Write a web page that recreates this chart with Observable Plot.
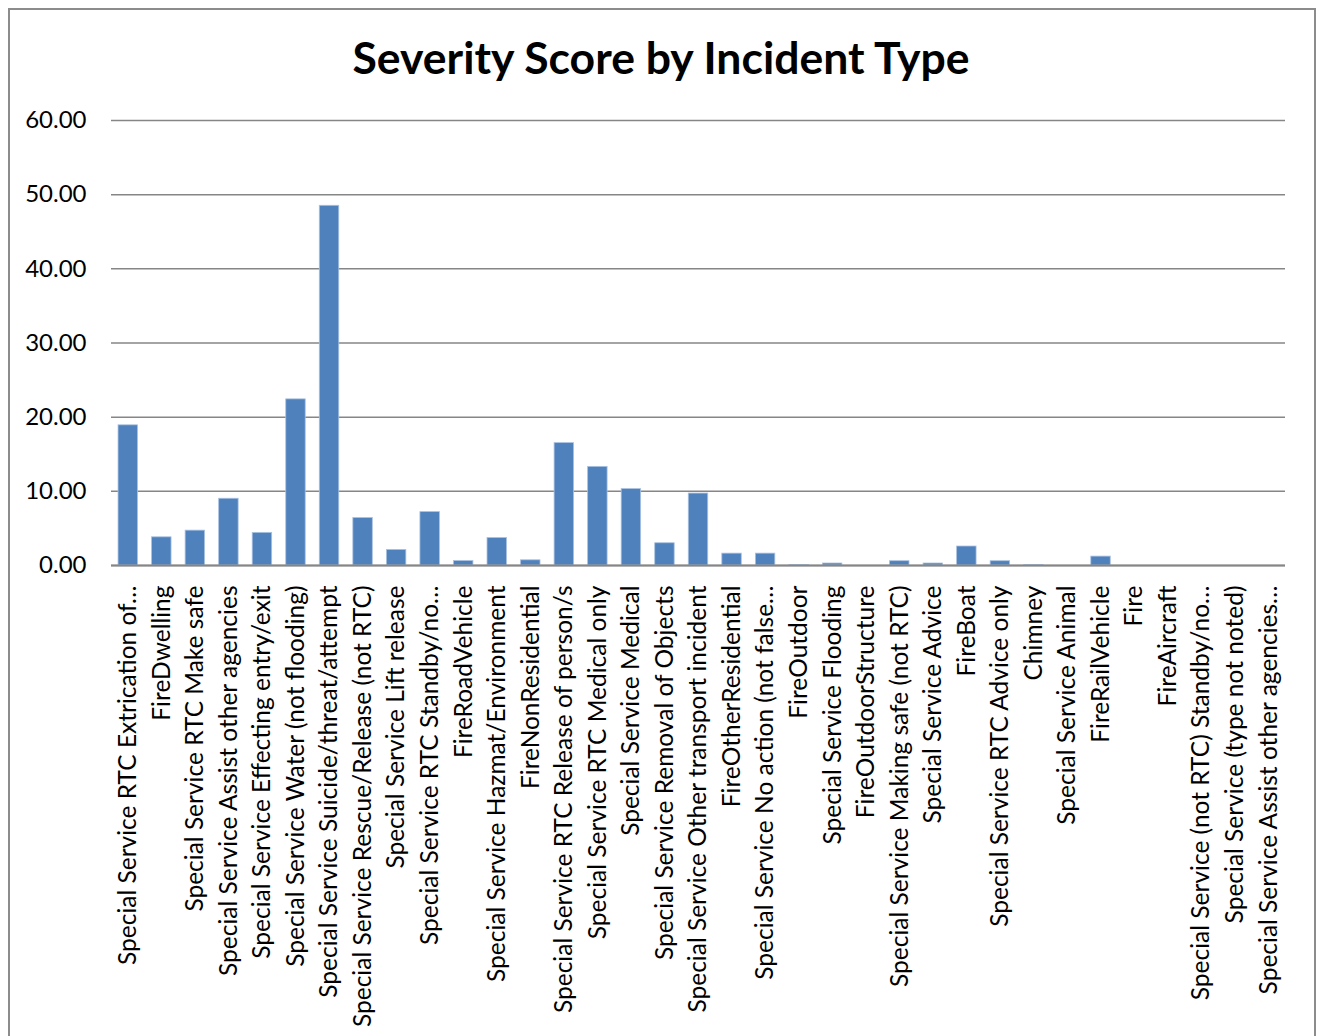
<!DOCTYPE html>
<html>
<head>
<meta charset="utf-8">
<script src="https://cdn.jsdelivr.net/npm/d3@7"></script>
<script src="https://cdn.jsdelivr.net/npm/@observablehq/plot@0.6"></script>
<style>
  html, body { margin: 0; padding: 0; background: #fff; width: 1322px; height: 1036px; overflow: hidden; }
  #frame { position: absolute; left: 8px; top: 8px; width: 1308px; height: 1100px; border: 2px solid #8c8c8c; box-sizing: border-box; }
  #title { position: absolute; left: 0; width: 1322px; top: 35px; text-align: center; font-family: Lato, "Open Sans", sans-serif; font-weight: bold; font-size: 44.5px; line-height: 1; color: #000; margin: 0; }
  #chart { position: absolute; left: 0; top: 100px; }
</style>
</head>
<body>
<div id="frame"></div>
<h1 id="title">Severity Score by Incident Type</h1>
<div id="chart"></div>
<script>
const categories = [
  "Special Service RTC Extrication of…",
  "FireDwelling",
  "Special Service RTC Make safe",
  "Special Service Assist other agencies",
  "Special Service Effecting entry/exit",
  "Special Service Water (not flooding)",
  "Special Service Suicide/threat/attempt",
  "Special Service Rescue/Release (not RTC)",
  "Special Service Lift release",
  "Special Service RTC Standby/no…",
  "FireRoadVehicle",
  "Special Service Hazmat/Environment",
  "FireNonResidential",
  "Special Service RTC Release of person/s",
  "Special Service RTC Medical only",
  "Special Service Medical",
  "Special Service Removal of Objects",
  "Special Service Other transport incident",
  "FireOtherResidential",
  "Special Service No action (not false…",
  "FireOutdoor",
  "Special Service Flooding",
  "FireOutdoorStructure",
  "Special Service Making safe (not RTC)",
  "Special Service Advice",
  "FireBoat",
  "Special Service RTC Advice only",
  "Chimney",
  "Special Service Animal",
  "FireRailVehicle",
  "Fire",
  "FireAircraft",
  "Special Service (not RTC) Standby/no…",
  "Special Service (type not noted)",
  "Special Service Assist other agencies…"
];
const values = [
  18.9, 3.8, 4.7, 9.0, 4.4, 22.4, 48.5, 6.4, 2.1, 7.2,
  0.6, 3.7, 0.7, 16.5, 13.3, 10.3, 3.0, 9.7, 1.6, 1.6,
  0.08, 0.27, 0, 0.58, 0.27, 2.56, 0.58, 0.05, 0, 1.2,
  0, 0, 0, 0, 0
];
const yTicks = [0, 10, 20, 30, 40, 50, 60];

const data = categories.map((c, i) => ({category: c, value: values[i]}));

const chart = Plot.plot({
  width: 1322,
  height: 936,
  marginLeft: 111,
  marginRight: 37,
  marginTop: 20,
  marginBottom: 471,
  style: {fontFamily: "Lato, 'Open Sans', sans-serif", fontSize: "24px", color: "#000", background: "transparent", overflow: "visible"},
  x: {domain: categories, paddingInner: 0.42, paddingOuter: 0.21, round: false, label: null, tickRotate: -90, tickSize: 0, tickPadding: 20},
  y: {domain: [0, 60], ticks: yTicks, tickFormat: d3.format(".2f"), label: null, tickSize: 0, tickPadding: 25},
  marks: [
    Plot.ruleY(yTicks, {stroke: "#868686", strokeWidth: 1.5}),
    Plot.barY(data, {x: "category", y: "value", fill: "#4F81BD", stroke: "#a9c1e0", strokeWidth: 0.8}),
    Plot.ruleY([0], {stroke: "#868686", strokeWidth: 2})
  ]
});
chart.querySelectorAll("[aria-label='x-axis tick label'] text").forEach(t => t.style.fontSize = "24.5px");
document.getElementById("chart").appendChild(chart);
</script>
</body>
</html>
